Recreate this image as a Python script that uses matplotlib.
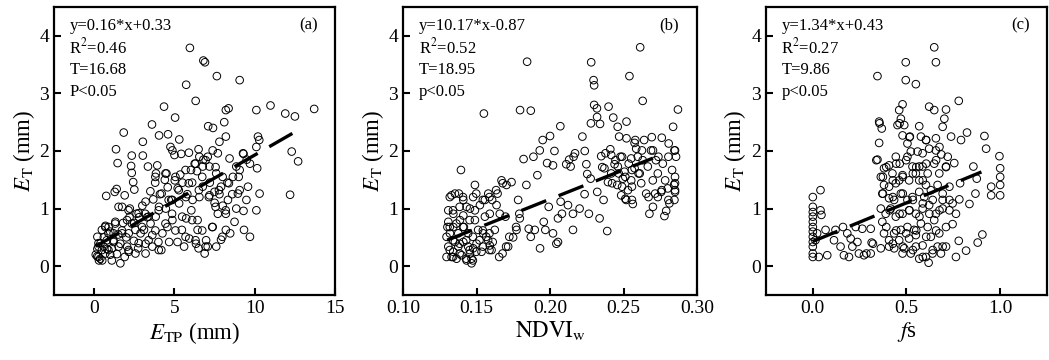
import matplotlib
matplotlib.use("Agg")
import numpy as np
import matplotlib.pyplot as plt

plt.rcParams['font.family'] = ['Liberation Serif', 'DejaVu Serif']
plt.rcParams['mathtext.fontset'] = 'stix'

# panel (a): E_TP vs E_T
etp = [5.96, 6.9, 6.8, 7.64, 9.06, 5.73, 6.32, 4.35, 5.04, 10.98, 13.7, 11.9, 12.5, 10.1, 8.37, 8.2,
       8.1, 7.1, 7.4, 3.6, 4.04, 4.6, 5.3, 1.84, 3.03, 1.36, 1.46, 2.34, 3.03, 2.3, 2.34, 2.43, 2.5,
       1.4, 0.75, 1.28, 1.9, 3.35, 3.85, 3.93, 4.75, 4.87, 5.0, 5.42, 5.9, 6.5, 6.55, 6.26, 6.03,
       5.36, 4.5, 5.02, 4.58, 4.2, 3.68, 3.2, 3.18, 2.64, 2.22, 1.74, 2.05, 1.32, 0.9, 0.48, 0.2,
       0.27, 0.19, 0.38, 0.69, 1.1, 1.63, 1.42, 1.9, 2.05, 2.47, 2.89, 2.74, 3.2, 3.62, 4.18, 4.25,
       4.56, 4.87, 5.19, 5.46, 5.73, 6.05, 6.44, 6.5, 6.44, 6.88, 7.07, 6.97, 7.6, 7.9, 8.2, 8.47,
       8.74, 8.85, 9.3, 9.33, 9.7, 10.1, 10.3, 10.15, 10.28, 10.2, 10.1, 9.27, 9.7, 9.06, 8.64, 8.85,
       8.43, 8.2, 7.8, 7.7, 7.38, 7.07, 6.76, 7.18, 7.6, 8.0, 7.9, 7.49, 7.18, 6.76, 6.55, 6.13,
       5.71, 5.29, 4.87, 4.46, 4.04, 3.83, 3.51, 3.1, 2.57, 2.15, 1.74, 1.21, 0.79, 0.59, 1.21,
       1.63, 2.15, 2.57, 3.2, 3.62, 4.0, 4.67, 5.6, 5.92, 6.34, 7.38, 7.7, 8.33, 8.2, 8.95, 9.58,
       9.06, 9.48, 12.3, 12.7, 12.2, 0.1, 0.3, 0.5, 0.2, 0.4, 0.6, 0.8, 1.0, 1.2, 1.0, 0.7, 1.5,
       1.8, 2.0, 2.2, 2.5, 2.8, 3.0, 3.3, 3.5, 3.8, 4.1, 4.4, 4.8, 5.2, 5.5, 5.8, 6.1, 6.4, 6.8,
       7.2, 7.5, 7.8, 8.0, 8.3, 8.6, 9.0, 9.3, 9.5,
       0.27, 0.89, 1.52, 2.14, 2.77, 3.39, 4.02, 0.89, 1.73, 2.35, 2.98, 3.81, 4.44, 5.06, 5.69,
       6.31, 6.94, 6.73, 7.35, 7.98, 6.1, 5.48, 4.85, 4.02, 3.39, 2.77, 2.14, 1.52, 4.64, 5.27,
       5.89, 6.52, 7.14, 7.77, 8.39, 7.56, 8.19, 3.81, 4.44, 5.06, 5.69, 6.31, 6.94, 7.56, 6.73,
       0.48, 0.27, 0.69, 1.31, 1.1]
et_a = [3.79, 3.54, 3.57, 3.30, 3.23, 3.15, 2.87, 2.77, 2.58, 2.79, 2.73, 2.65, 2.60, 2.71, 2.74, 2.71,
        2.5, 2.43, 2.4, 2.46, 2.27, 2.29, 2.2, 2.32, 2.16, 2.03, 1.79, 1.92, 1.92, 1.74, 1.62, 1.46, 1.33,
        1.34, 1.22, 1.29, 1.23, 1.73, 1.61, 1.75, 2.07, 2.01, 1.93, 1.95, 1.97, 2.03, 1.90, 1.78, 1.67,
        1.59, 1.61, 1.49, 1.37, 1.26, 1.16, 1.12, 0.91, 0.91, 1.0, 1.03, 0.8, 0.77, 0.68, 0.63, 0.51,
        0.34, 0.17, 0.13, 0.22, 0.31, 0.05, 0.21, 0.16, 0.34, 0.44, 0.57, 0.31, 0.39, 0.54, 0.28, 0.57,
        0.68, 0.8, 0.42, 0.63, 0.83, 0.97, 0.8, 0.31, 0.63, 0.22, 0.34, 0.45, 0.34, 0.46, 0.63, 0.57,
        0.77, 1.0, 0.96, 0.63, 0.51, 0.97, 1.26, 1.70, 2.19, 2.25, 2.07, 1.96, 1.78, 1.67, 1.55, 1.73,
        1.87, 2.25, 2.16, 1.96, 2.01, 1.90, 1.73, 1.73, 1.61, 1.55, 1.38, 1.29, 1.23, 1.38, 1.2, 1.15,
        1.2, 1.09, 1.15, 1.0, 1.03, 0.86, 0.74, 0.63, 0.63, 0.57, 0.57, 0.57, 0.45, 0.34, 0.42,
        0.39, 0.25, 0.22, 0.22, 0.34, 0.42, 0.42, 0.34, 0.48, 0.39, 0.68, 0.91, 1.15, 0.91, 1.26, 1.38,
        1.32, 1.15, 1.99, 1.82, 1.24, 0.2, 0.1, 0.1, 0.3, 0.4, 0.5, 0.3, 0.2, 0.45, 0.6, 0.7, 0.55,
        0.75, 0.5, 0.85, 0.75, 0.85, 1.05, 0.85, 1.3, 1.45, 1.25, 1.5, 1.15, 1.35, 1.45, 1.25, 1.45, 1.65, 1.85,
        1.45, 1.1, 1.25, 1.05, 1.45, 1.25, 1.55, 1.95, 1.85,
        0.16, 0.28, 0.34, 0.28, 0.40, 0.45, 0.28, 0.57, 0.62, 0.74, 0.68, 0.62, 0.74, 0.62, 0.51,
        0.45, 0.34, 0.62, 0.68, 0.51, 0.80, 0.86, 0.91, 0.97, 0.86, 0.92, 0.97, 1.03, 1.15, 1.32,
        1.44, 1.32, 1.20, 1.32, 1.44, 1.03, 0.97, 1.55, 1.61, 1.55, 1.67, 1.78, 1.84, 1.72, 1.55,
        0.28, 0.40, 0.68, 0.74, 0.10]

# panel (b): NDVIw vs E_T
ndvi = [0.2613, 0.1844, 0.228, 0.2296, 0.230, 0.254, 0.263, 0.155, 0.1796, 0.1869, 0.230, 0.2319,
        0.232, 0.2278, 0.234, 0.2398, 0.243, 0.246, 0.252, 0.287, 0.2837, 0.207, 0.2, 0.195, 0.193,
        0.1887, 0.182, 0.203, 0.198, 0.202, 0.222, 0.2236, 0.217, 0.213, 0.211, 0.214, 0.216, 0.2247,
        0.2253, 0.2276, 0.2348, 0.241, 0.247, 0.252, 0.2575, 0.264, 0.270, 0.276, 0.2807, 0.2846,
        0.2857, 0.283, 0.285, 0.2844, 0.285, 0.2846, 0.2812, 0.279, 0.2778, 0.2733, 0.270, 0.2676,
        0.2654, 0.262, 0.261, 0.2575, 0.2552, 0.253, 0.2563, 0.2518, 0.2484, 0.2457, 0.2495, 0.2479,
        0.2439, 0.2416, 0.2394, 0.237, 0.2733, 0.2767, 0.272, 0.2665, 0.2699, 0.2801, 0.2756, 0.2321,
        0.2364, 0.2337, 0.2389, 0.2264, 0.2235, 0.2201, 0.2156, 0.2156, 0.2122, 0.2072, 0.2081, 0.2054,
        0.2054, 0.2043, 0.202, 0.1991, 0.1968, 0.1957, 0.1932, 0.1896, 0.1869, 0.1855, 0.1914, 0.1839,
        0.1783, 0.1794, 0.1772, 0.1749, 0.1715, 0.1677, 0.1654, 0.1738, 0.1704, 0.167, 0.1636, 0.1643,
        0.1606, 0.158, 0.1557, 0.1523, 0.1489, 0.1477, 0.1455, 0.141, 0.1394, 0.138, 0.1353, 0.133,
        0.1308, 0.1308, 0.1342, 0.1387, 0.1414, 0.1443, 0.1489, 0.1511, 0.1545, 0.1579, 0.1602, 0.1624,
        0.159, 0.1534, 0.15, 0.1466, 0.1455, 0.1466, 0.1432, 0.1398, 0.1364, 0.1342, 0.1308, 0.1296,
        0.1319, 0.1353, 0.1376, 0.141, 0.1443, 0.1477, 0.133, 0.1296, 0.1302, 0.1342, 0.1376, 0.141,
        0.1432, 0.1489, 0.1557, 0.159, 0.1658, 0.1697, 0.2597, 0.2552, 0.263, 0.2687, 0.2586, 0.2416,
        0.2506, 0.2461,
        0.1318, 0.134, 0.1385, 0.143, 0.1475, 0.1453, 0.1498, 0.1543, 0.1588, 0.134, 0.1385, 0.143,
        0.1475, 0.152, 0.1566, 0.161, 0.1318, 0.1363, 0.1408, 0.1453, 0.134, 0.1385, 0.1318, 0.1408,
        0.1498, 0.1543, 0.1588, 0.1633, 0.1678, 0.1543, 0.1588, 0.1701, 0.1723, 0.1769, 0.1791,
        0.2377, 0.2445, 0.249, 0.2535, 0.2467, 0.2512, 0.2557, 0.2602, 0.2422, 0.249, 0.2557, 0.2512,
        0.2557, 0.267, 0.2715, 0.276, 0.2805, 0.285, 0.2783, 0.285, 0.2737, 0.2805, 0.285, 0.2625,
        0.2692, 0.2580, 0.2355]
et_b = [3.80, 3.55, 3.54, 3.23, 3.14, 3.30, 2.87, 2.65, 2.71, 2.70, 2.80, 2.74,
        2.59, 2.48, 2.47, 2.77, 2.58, 2.42, 2.51, 2.72, 2.42, 2.43, 2.26, 2.19, 2.01,
        1.90, 1.86, 2.0, 1.79, 1.75, 2.25, 2.0, 1.96, 1.85, 1.77, 1.73, 1.90, 1.77,
        1.60, 1.52, 1.91, 2.03, 2.25, 2.22, 2.14, 2.19, 2.01, 2.23, 2.13, 2.01,
        1.90, 1.67, 1.55, 1.41, 1.29, 1.15, 1.09, 0.96, 0.87, 1.20, 1.03, 0.91,
        1.26, 1.44, 1.61, 1.70, 1.49, 1.32, 1.08, 1.15, 1.23, 1.41, 1.52, 1.90,
        1.77, 1.61, 1.46, 1.70, 1.61, 1.78, 1.84, 1.73, 1.49, 1.35, 1.29, 1.29,
        1.15, 0.83, 0.61, 0.91, 1.25, 1.0, 0.91, 0.63, 1.06, 1.12, 0.91, 0.83,
        0.42, 0.39, 0.57, 1.03, 0.63, 0.77, 0.31, 0.63, 0.51, 0.65, 1.58, 1.41,
        1.15, 0.83, 0.63, 0.50, 0.34, 0.22, 0.16, 1.46, 1.41, 1.49, 1.06, 1.26,
        1.15, 1.26, 1.15, 1.06, 1.41, 1.20, 1.0, 1.15, 1.67, 1.26, 1.26, 1.23,
        0.97, 0.77, 0.91, 0.80, 0.68, 0.57, 0.80, 0.63, 0.57, 0.45, 0.28, 0.63,
        0.36, 0.25, 0.39, 0.13, 0.22, 0.05, 0.10, 0.19, 0.13, 0.25, 0.34, 0.51,
        0.57, 0.42, 0.34, 0.42, 0.34, 0.31, 0.16, 0.16, 0.68, 0.68, 0.57, 0.88,
        1.03, 0.97, 0.86, 0.91, 0.91, 0.86, 1.90, 1.87, 1.84, 2.01, 2.04, 1.93,
        1.64, 1.73,
        0.28, 0.16, 0.22, 0.13, 0.10, 0.28, 0.25, 0.34, 0.28, 0.45, 0.39, 0.45,
        0.51, 0.45, 0.51, 0.42, 0.68, 0.74, 0.68, 0.80, 0.97, 1.03, 1.20, 1.20,
        1.26, 1.15, 1.20, 1.32, 1.44, 0.62, 0.57, 0.34, 0.51, 0.68, 0.91,
        1.96, 1.84, 1.90, 1.78, 1.61, 1.55, 1.67, 1.61, 1.44, 1.38, 1.38, 1.17,
        1.15, 1.20, 1.26, 1.32, 1.15, 1.32, 1.49, 1.44, 1.90, 1.90, 2.01, 2.01,
        2.24, 2.19, 1.72]

# panel (c): fs vs E_T
fs = [0.648, 0.496, 0.657, 0.345, 0.496, 0.55, 0.779, 0.621, 0.648, 0.711, 0.479, 0.461, 0.47,
      0.452, 0.488, 0.568, 0.702, 0.693, 0.354, 0.368, 0.479, 0.518, 0.354, 0.577, 0.604, 0.657,
      0.738, 0.791, 0.823, 0.916, 0.925, 0.996, 1.0, 1.0, 1.0, 1.0, 0.952, 0.952, 0.857, 0.875,
      0.868, 0.836, 0.905, 0.88, 0.818, 0.779, 0.764, 0.786, 0.782, 0.764, 0.746, 0.729, 0.72,
      0.755, 0.711, 0.686, 0.657, 0.621, 0.586, 0.559, 0.523, 0.505, 0.464, 0.443, 0.407, 0.38,
      0.345, 0.363, 0.38, 0.371, 0.363, 0.371, 0.38, 0.363, 0.314, 0.309, 0.264, 0.229, 0.184,
      0.161, 0.121, 0.068, 0.113, 0.148, 0.166, 0.193, 0.211, 0.246, 0.273, 0.309, 0.202, 0.238,
      0.032, 0.077, 0.0, 0.0, 0.0, 0.0, 0.0, 0.0, 0.0, 0.0, 0.0, 0.0, 0.0, 0.0, 0.041, 0.041,
      0.046, 0.014, 0.023, 0.407, 0.443, 0.479, 0.514, 0.55, 0.586, 0.613, 0.648, 0.675, 0.666,
      0.63, 0.595, 0.568, 0.532, 0.505, 0.47, 0.434, 0.416, 0.443, 0.479, 0.514, 0.55, 0.586,
      0.621, 0.657, 0.693, 0.648, 0.613, 0.577, 0.541, 0.505, 0.47, 0.434, 0.407, 0.434, 0.461,
      0.488, 0.514, 0.523, 0.55, 0.568, 0.586, 0.604, 0.618, 0.639, 0.666, 0.684, 0.711, 0.63,
      0.675, 0.55, 0.479, 0.407, 0.389, 0.407, 0.425, 0.461, 0.532, 0.568, 0.604, 0.693, 0.729,
      0.568, 0.505,
      0.356, 0.463, 0.516, 0.605, 0.676, 0.339, 0.392, 0.445, 0.498, 0.552, 0.605, 0.658, 0.711,
      0.374, 0.427, 0.48, 0.534, 0.587, 0.374, 0.427, 0.48, 0.534, 0.587, 0.64, 0.693, 0.746,
      0.41, 0.463, 0.516, 0.569, 0.622, 0.676, 0.729, 0.392, 0.445, 0.498, 0.552, 0.605, 0.658,
      0.711, 0.427, 0.48, 0.534, 0.587, 0.64, 0.693, 0.286, 0.321]
et_c = [3.80, 3.54, 3.54, 3.30, 3.23, 3.16, 2.87, 2.77, 2.71, 2.72, 2.81, 2.71, 2.56,
        2.45, 2.45, 2.43, 2.56, 2.42, 2.51, 2.39, 2.27, 2.25, 2.14, 2.25, 2.19, 2.22,
        2.25, 2.19, 2.32, 2.26, 2.04, 1.91, 1.70, 1.55, 1.41, 1.23, 1.38, 1.23, 1.73, 1.52,
        1.26, 1.08, 0.55, 0.41, 0.27, 0.44, 0.16, 1.44, 1.16, 0.91, 0.73, 1.15, 1.90,
        1.79, 1.73, 1.94, 2.01, 2.04, 1.96, 1.99, 1.99, 1.90, 1.78, 1.90, 1.75, 1.70,
        1.85, 1.55, 1.41, 1.26, 1.0, 0.77, 0.57, 0.31, 0.41, 0.65, 0.65, 0.68, 0.57,
        0.68, 0.63, 0.63, 0.45, 0.34, 0.19, 0.16, 0.34, 0.22, 0.19, 0.22, 0.48, 0.42,
        0.16, 0.19, 0.16, 0.34, 0.51, 0.68, 0.86, 1.03, 1.20, 0.22, 0.42, 0.60, 0.77, 0.94, 1.32, 0.97,
        0.89, 0.45, 0.57, 1.38, 1.44, 1.58, 1.49, 1.61, 1.73, 1.61, 1.78, 1.61, 1.41,
        1.32, 1.20, 1.29, 1.20, 1.15, 1.26, 1.15, 1.0, 0.86, 0.91, 0.97, 0.91, 1.0,
        1.06, 0.91, 1.0, 0.80, 0.68, 0.74, 0.63, 0.68, 0.63, 0.57, 0.45, 0.31, 0.45,
        0.31, 0.48, 0.22, 0.34, 0.13, 0.36, 0.16, 0.06, 0.22, 0.34, 0.22, 0.34, 0.51,
        0.57, 0.54, 0.22, 0.34, 0.91, 1.18, 1.61, 1.49, 1.73, 1.49, 1.41, 1.26, 1.38,
        1.73, 2.13,
        2.48, 2.48, 2.24, 2.19, 2.07, 1.84, 1.72, 1.78, 1.84, 1.72, 1.78, 1.84, 1.72,
        1.55, 1.49, 1.55, 1.61, 1.49, 1.26, 1.20, 1.26, 1.15, 1.09, 1.15, 1.15, 1.09,
        0.97, 0.91, 0.97, 0.86, 0.91, 0.97, 0.97, 0.68, 0.62, 0.57, 0.62, 0.51, 0.62,
        0.68, 0.39, 0.34, 0.28, 0.16, 0.28, 0.34, 0.22, 0.39]

# regression results: slope, intercept, fit range, text lines
fits = [
    (0.16, 0.33, (0.1, 13.0), ['y=0.16*x+0.33', 'R$^2$=0.46', 'T=16.68', 'P<0.05'], '(a)'),
    (10.17, -0.87, (0.13, 0.27), ['y=10.17*x-0.87', 'R$^2$=0.52', 'T=18.95', 'p<0.05'], '(b)'),
    (1.34, 0.43, (0.0, 0.9), ['y=1.34*x+0.43', 'R$^2$=0.27', 'T=9.86', 'p<0.05'], '(c)'),
]
xs = [etp, ndvi, fs]
ys = [et_a, et_b, et_c]
xlims = [(-2.5, 15), (0.10, 0.30), (-0.25, 1.25)]
xticks = [[0, 5, 10, 15], [0.10, 0.15, 0.20, 0.25, 0.30], [0.0, 0.5, 1.0]]
xticklabels = [['0', '5', '10', '15'], ['0.10', '0.15', '0.20', '0.25', '0.30'], ['0.0', '0.5', '1.0']]
xlabels = [r'$E_{\mathrm{TP}}$ (mm)', r'$\mathrm{NDVI_w}$', r'$f$s']
boxes = [[0.0515, 0.1806, 0.2679, 0.8], [0.3842, 0.1806, 0.2803, 0.8], [0.7302, 0.1806, 0.2679, 0.8]]

fig = plt.figure(figsize=(10.49, 3.6), dpi=100)

for i in range(3):
    ax = fig.add_axes(boxes[i])
    ax.scatter(xs[i], ys[i], s=30, facecolors='none', edgecolors='black', linewidths=0.7, zorder=2)
    k, b, (x0, x1), lines, tag = fits[i]
    fx = np.array([x0, x1])
    ax.plot(fx, k * fx + b, color='black', lw=2.4, linestyle=(0, (8, 4)), zorder=3)
    ax.set_xlim(*xlims[i])
    ax.set_ylim(-0.5, 4.5)
    ax.set_xticks(xticks[i])
    ax.set_xticklabels(xticklabels[i])
    ax.set_yticks([0, 1, 2, 3, 4])
    ax.tick_params(direction='in', length=5, width=1.5, labelsize=14)
    for sp in ax.spines.values():
        sp.set_linewidth(1.6)
    ax.set_xlabel(xlabels[i], fontsize=16.5, labelpad=2)
    ax.set_ylabel(r'$E_{\mathrm{T}}$ (mm)', fontsize=16.5, labelpad=2)
    for j, t in enumerate(lines):
        ax.text(0.055, 0.935 - j * 0.077, t, transform=ax.transAxes, fontsize=12, va='center', ha='left')
    ax.text(0.905, 0.935, tag, transform=ax.transAxes, fontsize=12, va='center', ha='center')

fig.savefig('out.png', dpi=100)
